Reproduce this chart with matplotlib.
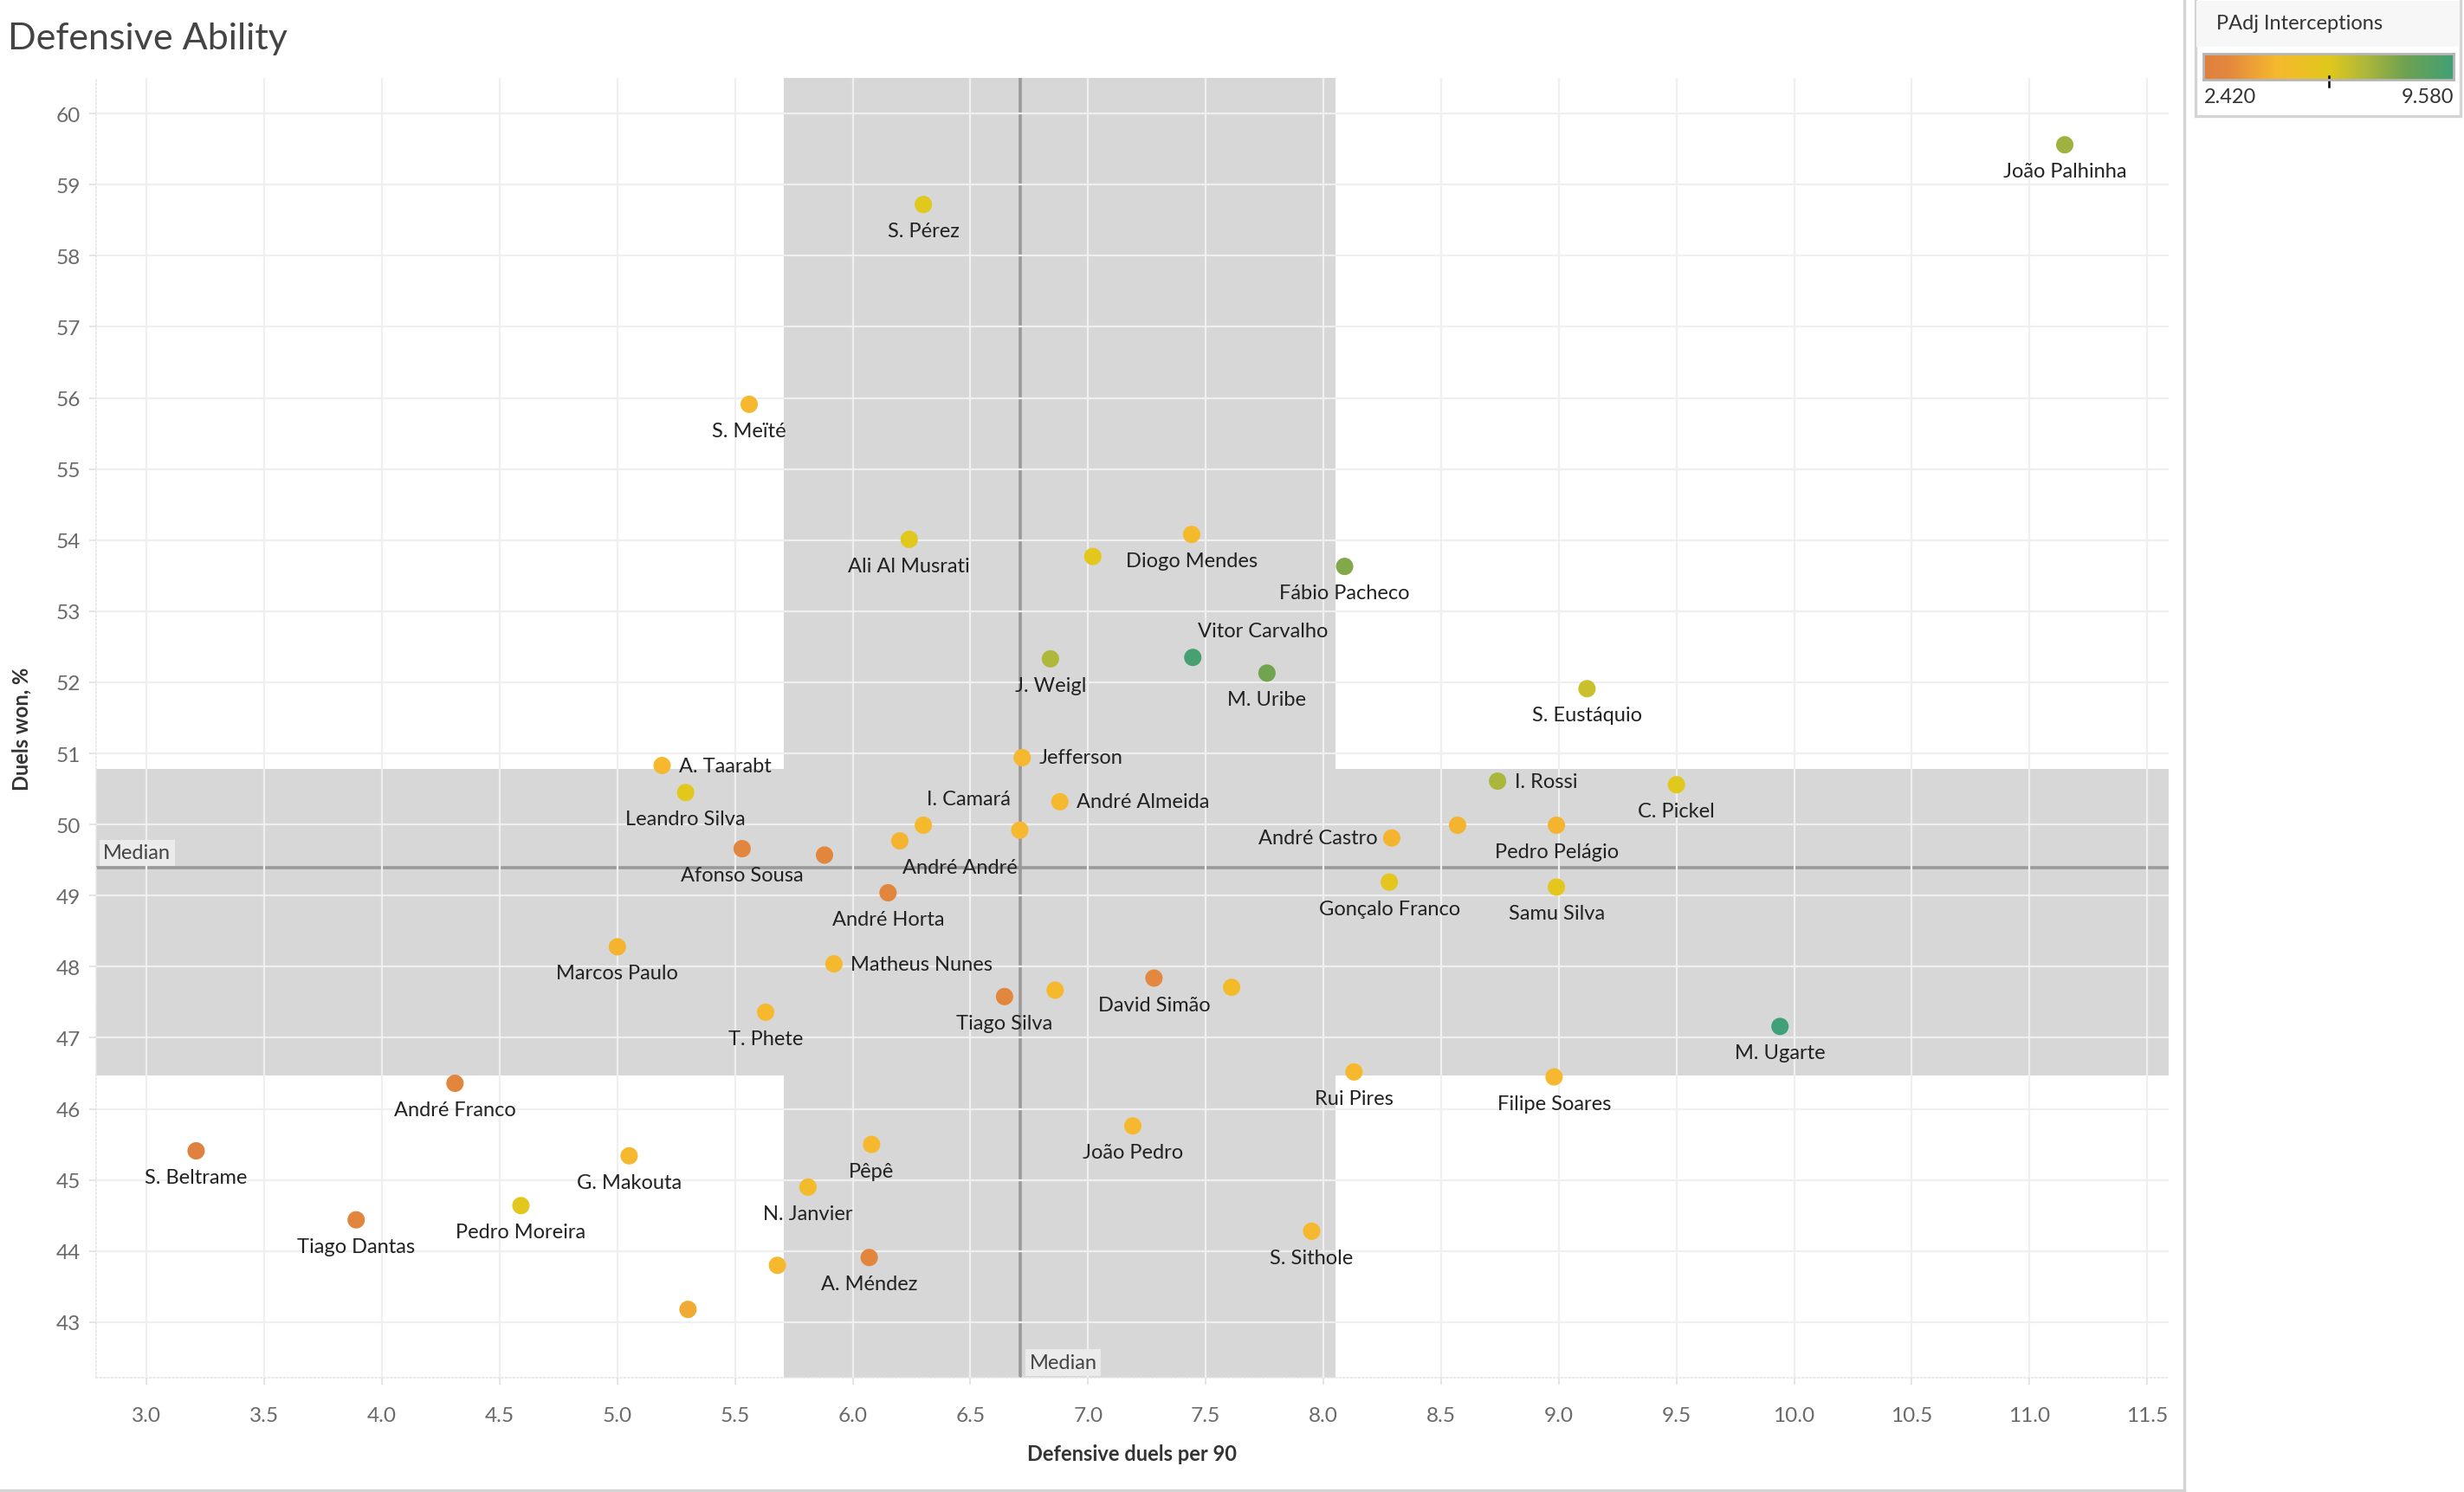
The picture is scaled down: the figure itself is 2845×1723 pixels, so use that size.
import matplotlib
matplotlib.use("Agg")
import matplotlib.pyplot as plt
from matplotlib.colors import LinearSegmentedColormap, Normalize
from matplotlib.lines import Line2D
from matplotlib.patches import Rectangle
import numpy as np

# data
players = [
    "João Palhinha", "S. Pérez", "S. Meïté", "Ali Al Musrati", "Diogo Mendes", "",
    "Fábio Pacheco", "Vitor Carvalho", "M. Uribe", "J. Weigl", "S. Eustáquio",
    "Jefferson", "A. Taarabt", "Leandro Silva", "I. Rossi", "C. Pickel",
    "André Almeida", "I. Camará", "André André", "", "Afonso Sousa", "",
    "André Horta", "Marcos Paulo", "Matheus Nunes", "T. Phete", "Tiago Silva", "",
    "David Simão", "", "M. Ugarte", "André Castro", "", "Pedro Pelágio",
    "Gonçalo Franco", "Samu Silva", "Rui Pires", "Filipe Soares", "André Franco",
    "S. Beltrame", "G. Makouta", "Pêpê", "João Pedro", "N. Janvier",
    "Pedro Moreira", "Tiago Dantas", "S. Sithole", "A. Méndez", "", "",
]
def_duels_p90 = [
    11.15, 6.30, 5.56, 6.24, 7.44, 7.02,
    8.09, 7.445, 7.76, 6.84, 9.12,
    6.72, 5.19, 5.29, 8.74, 9.50,
    6.88, 6.30, 6.20, 6.71, 5.53, 5.88,
    6.15, 5.00, 5.92, 5.63, 6.645, 6.86,
    7.28, 7.61, 9.94, 8.29, 8.57, 8.99,
    8.28, 8.99, 8.13, 8.98, 4.31,
    3.21, 5.05, 6.08, 7.19, 5.81,
    4.59, 3.89, 7.95, 6.07, 5.68, 5.30,
]
duels_won = [
    59.56, 58.72, 55.91, 54.01, 54.08, 53.77,
    53.63, 52.35, 52.13, 52.33, 51.91,
    50.94, 50.83, 50.45, 50.61, 50.56,
    50.32, 49.99, 49.77, 49.92, 49.66, 49.57,
    49.04, 48.28, 48.04, 47.36, 47.58, 47.67,
    47.84, 47.71, 47.16, 49.81, 49.99, 49.99,
    49.19, 49.12, 46.52, 46.45, 46.36,
    45.41, 45.34, 45.50, 45.76, 44.90,
    44.64, 44.44, 44.28, 43.91, 43.80, 43.18,
]
padj_interceptions = [
    7.3, 6.0, 4.5, 6.0, 4.7, 5.9,
    7.8, 9.4, 8.1, 7.0, 6.5,
    4.5, 4.5, 5.9, 7.1, 6.0,
    4.5, 4.6, 4.4, 4.5, 2.9, 2.9,
    2.9, 4.4, 4.5, 4.5, 3.0, 4.6,
    3.1, 4.8, 9.58, 4.4, 4.4, 4.4,
    5.8, 5.8, 4.5, 4.5, 2.9,
    2.42, 4.5, 4.5, 4.5, 4.8,
    5.9, 3.0, 4.5, 2.9, 4.5, 4.1,
]
x_ticks = [3.0, 3.5, 4.0, 4.5, 5.0, 5.5, 6.0, 6.5, 7.0, 7.5, 8.0, 8.5, 9.0, 9.5, 10.0, 10.5, 11.0, 11.5]
y_ticks = list(range(43, 61))

median_x = 6.71
median_y = 49.39
band_x = (5.706, 8.05)
band_y = (46.47, 50.78)
pint_min, pint_max = 2.42, 9.58

# label placement (points): default is centred below the dot
label_pos = {
    "Jefferson": (7, 0, "left"),
    "A. Taarabt": (7, 0, "left"),
    "I. Rossi": (7, 0, "left"),
    "André Almeida": (7, 0, "left"),
    "Matheus Nunes": (7, 0, "left"),
    "André Castro": (-6, 0, "right"),
    "Vitor Carvalho": (29, 11, "center"),
    "I. Camará": (19, 11, "center"),
    "André André": (25, -11, "center"),
}

FONT = "Lato"
cmap = LinearSegmentedColormap.from_list("padj", [
    (0.0, "#df813f"), (0.1, "#e3883e"), (0.29, "#f6b82e"), (0.5, "#e1c81c"),
    (0.64, "#b0b83a"), (0.8, "#70a250"), (1.0, "#40a077")])
norm = Normalize(pint_min, pint_max)

fig = plt.figure(figsize=(14.225, 8.62), dpi=200)
ax = fig.add_axes([0.039, 0.0766, 0.841, 0.8706])
ax.set_xlim(2.785, 11.59)
ax.set_ylim(42.22, 60.50)

band_col = "#d7d7d7"
ax.axvspan(band_x[0], band_x[1], color=band_col, lw=0, zorder=0.5)
ax.axhspan(band_y[0], band_y[1], color=band_col, lw=0, zorder=0.5)

ax.set_xticks(x_ticks)
ax.set_yticks(y_ticks)
ax.set_xticklabels([f"{t:.1f}" for t in x_ticks])
ax.grid(True, color="#efefef", lw=0.8, zorder=1)
ax.set_axisbelow(False)
for s in ["top", "right"]:
    ax.spines[s].set_visible(False)
for s in ["left", "bottom"]:
    ax.spines[s].set_color("#e6e6e6")
    ax.spines[s].set_linewidth(0.6)
    ax.spines[s].set_linestyle(":")
ax.tick_params(colors="#e0e0e0", length=3, width=0.6, labelcolor="#6a6a6a", labelsize=8.8)
ax.tick_params(axis="x", pad=9)
for lab in ax.get_xticklabels() + ax.get_yticklabels():
    lab.set_fontfamily(FONT)

ax.axvline(median_x, color="#999999", lw=1.3, zorder=2)
ax.axhline(median_y, color="#999999", lw=1.3, zorder=2)

ax.annotate("Median", xy=(0, median_y), xycoords=("axes fraction", "data"),
            xytext=(3, 2.5), textcoords="offset points", ha="left", va="bottom",
            fontsize=8.5, color="#444444", family=FONT, zorder=3,
            bbox=dict(boxstyle="square,pad=0.2", fc="#ebebeb", ec="none"))
ax.annotate("Median", xy=(median_x, 0), xycoords=("data", "axes fraction"),
            xytext=(4, 2.5), textcoords="offset points", ha="left", va="bottom",
            fontsize=8.5, color="#444444", family=FONT, zorder=3,
            bbox=dict(boxstyle="square,pad=0.2", fc="#ebebeb", ec="none"))

ax.scatter(def_duels_p90, duels_won, c=padj_interceptions, cmap=cmap, norm=norm,
           s=52, linewidths=0, zorder=4)

for name, x, y in zip(players, def_duels_p90, duels_won):
    if not name:
        continue
    dx, dy, ha = label_pos.get(name, (0, -11, "center"))
    ax.annotate(name, (x, y), xytext=(dx, dy), textcoords="offset points",
                ha=ha, va="center", fontsize=8.5, color="#222222",
                family=FONT, zorder=5)

ax.set_xlabel("Defensive duels per 90", fontsize=8.5, fontweight="bold",
              color="#333333", family=FONT, labelpad=8)
ax.set_ylabel("Duels won, %", fontsize=8.5, fontweight="bold",
              color="#333333", family=FONT, labelpad=10)

fig.text(0.003, 0.974, "Defensive Ability", fontsize=15.5, color="#444444",
         family=FONT, fontweight="normal", ha="left", va="center")

# frame lines of the dashboard
fig.add_artist(Line2D([0.8865, 0.8865], [0.0012, 1.0], color="#d4d4d4", lw=1.2))
fig.add_artist(Line2D([0.0, 0.8865], [0.0012, 0.0012], color="#d4d4d4", lw=1.2))

# colour legend
fig.add_artist(Rectangle((0.891, 0.9217), 0.1075, 0.09, transform=fig.transFigure,
                         fc="white", ec="#d4d4d4", lw=1.2, zorder=-2))
fig.add_artist(Rectangle((0.8915, 0.968), 0.1065, 0.031, transform=fig.transFigure,
                         fc="#f7f7f7", ec="none", zorder=-1))
fig.text(0.8995, 0.984, "PAdj Interceptions", fontsize=8.5, color="#333333",
         family=FONT, ha="left", va="center")
cax = fig.add_axes([0.8942, 0.946, 0.1016, 0.0174])
cax.set_zorder(5)
grad = np.linspace(0, 1, 256).reshape(1, -1)
cax.imshow(grad, aspect="auto", cmap=cmap, extent=(0, 1, 0, 1))
cax.set_xticks([])
cax.set_yticks([])
for s in cax.spines.values():
    s.set_color("#b5b5b5")
    s.set_linewidth(1.0)
cax.add_artist(Line2D([0.5, 0.5], [-0.25, 0.15], color="black", lw=0.9,
                      transform=cax.transAxes, clip_on=False))
fig.text(0.8945, 0.9345, f"{pint_min:.3f}", fontsize=8.5, color="#333333",
         family=FONT, ha="left", va="center")
fig.text(0.9958, 0.9345, f"{pint_max:.3f}", fontsize=8.5, color="#333333",
         family=FONT, ha="right", va="center")

fig.savefig("out.png", dpi=200)
